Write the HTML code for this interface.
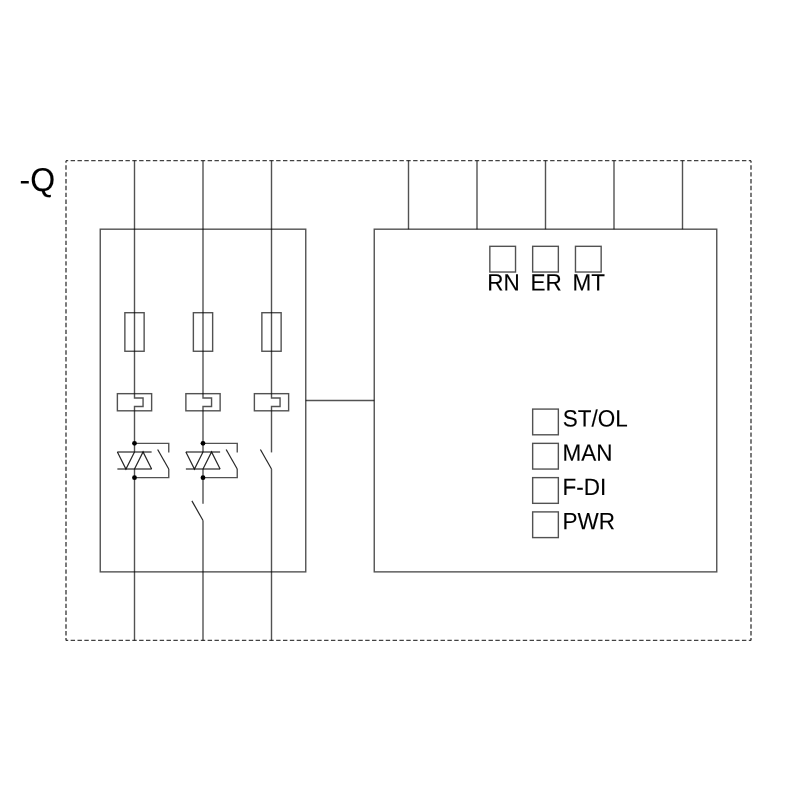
<!DOCTYPE html>
<html lang="en">
<head>
<meta charset="utf-8">
<title>-Q circuit diagram</title>
<style>
html,body{margin:0;padding:0;background:#fff;}
body{width:800px;height:800px;overflow:hidden;}
svg{display:block;will-change:transform;}
svg text{font-family:"Liberation Sans",sans-serif;fill:#000;stroke:#000;stroke-width:0.1px;text-rendering:geometricPrecision;}
</style>
</head>
<body>
<svg width="800" height="800" viewBox="0 0 800 800">
<rect x="0" y="0" width="800" height="800" fill="#ffffff"/>
<g fill="none" stroke="#000" stroke-opacity="0.68" stroke-width="1.4" stroke-linecap="butt" stroke-linejoin="miter">
<!-- dashed device outline -->
<line x1="66.00" y1="160.65" x2="751.00" y2="160.65" stroke-dasharray="4.4 2.45" stroke-dashoffset="2.2" stroke-opacity="0.74"/>
<line x1="66.00" y1="640.40" x2="751.00" y2="640.40" stroke-dasharray="4.4 2.45" stroke-dashoffset="2.2" stroke-opacity="0.74"/>
<line x1="66.00" y1="160.65" x2="66.00" y2="640.40" stroke-dasharray="4.4 2.45" stroke-dashoffset="2.2" stroke-opacity="0.74"/>
<line x1="751.00" y1="160.65" x2="751.00" y2="640.40" stroke-dasharray="4.4 2.45" stroke-dashoffset="2.2" stroke-opacity="0.74"/>
<!-- power unit and control unit frames -->
<rect x="100.25" y="229.19" width="205.50" height="342.68"/>
<rect x="374.25" y="229.19" width="342.50" height="342.68"/>
<line x1="305.75" y1="400.53" x2="374.25" y2="400.53"/>
<!-- control terminals -->
<line x1="408.50" y1="160.65" x2="408.50" y2="229.19"/>
<line x1="477.00" y1="160.65" x2="477.00" y2="229.19"/>
<line x1="545.50" y1="160.65" x2="545.50" y2="229.19"/>
<line x1="614.00" y1="160.65" x2="614.00" y2="229.19"/>
<line x1="682.50" y1="160.65" x2="682.50" y2="229.19"/>
<!-- status LEDs RN / ER / MT -->
<rect x="489.84" y="246.32" width="25.69" height="25.70"/>
<rect x="532.66" y="246.32" width="25.69" height="25.70"/>
<rect x="575.47" y="246.32" width="25.69" height="25.70"/>
<!-- status LEDs ST/OL, MAN, F-DI, PWR -->
<rect x="532.66" y="409.09" width="25.69" height="25.70"/>
<rect x="532.66" y="443.36" width="25.69" height="25.70"/>
<rect x="532.66" y="477.63" width="25.69" height="25.70"/>
<rect x="532.66" y="511.90" width="25.69" height="25.70"/>
<!-- phase 1 -->
<line x1="134.50" y1="160.65" x2="134.50" y2="393.67"/>
<rect x="124.87" y="312.71" width="19.27" height="38.55"/>
<rect x="117.38" y="393.67" width="34.25" height="17.13"/>
<polyline points="134.50,393.67 134.50,397.96 143.06,397.96 143.06,406.52 134.50,406.52 134.50,410.81"/>
<line x1="134.50" y1="410.81" x2="134.50" y2="451.93"/>
<line x1="117.38" y1="451.93" x2="151.62" y2="451.93"/>
<line x1="117.38" y1="469.06" x2="151.62" y2="469.06"/>
<polyline points="117.38,451.93 125.94,469.06 134.50,451.93" stroke-width="1.2" stroke-opacity="0.85"/>
<polyline points="134.50,469.06 143.06,451.93 151.62,469.06" stroke-width="1.2" stroke-opacity="0.85"/>
<polyline points="134.50,443.36 168.75,443.36 168.75,452.43"/>
<line x1="157.65" y1="449.46" x2="168.75" y2="469.06" stroke-width="1.2" stroke-opacity="0.85"/>
<polyline points="168.75,469.06 168.75,477.63 134.50,477.63"/>
<line x1="134.50" y1="469.06" x2="134.50" y2="640.40"/>
<!-- phase 2 -->
<line x1="203.00" y1="160.65" x2="203.00" y2="393.67"/>
<rect x="193.37" y="312.71" width="19.27" height="38.55"/>
<rect x="185.88" y="393.67" width="34.25" height="17.13"/>
<polyline points="203.00,393.67 203.00,397.96 211.56,397.96 211.56,406.52 203.00,406.52 203.00,410.81"/>
<line x1="203.00" y1="410.81" x2="203.00" y2="451.93"/>
<line x1="185.88" y1="451.93" x2="220.12" y2="451.93"/>
<line x1="185.88" y1="469.06" x2="220.12" y2="469.06"/>
<polyline points="185.88,451.93 194.44,469.06 203.00,451.93" stroke-width="1.2" stroke-opacity="0.85"/>
<polyline points="203.00,469.06 211.56,451.93 220.12,469.06" stroke-width="1.2" stroke-opacity="0.85"/>
<polyline points="203.00,443.36 237.25,443.36 237.25,452.43"/>
<line x1="226.15" y1="449.46" x2="237.25" y2="469.06" stroke-width="1.2" stroke-opacity="0.85"/>
<polyline points="237.25,469.06 237.25,477.63 203.00,477.63"/>
<line x1="203.00" y1="469.06" x2="203.00" y2="503.83"/>
<line x1="191.90" y1="500.86" x2="203.00" y2="520.46" stroke-width="1.2" stroke-opacity="0.85"/>
<line x1="203.00" y1="520.46" x2="203.00" y2="640.40"/>
<!-- phase 3 -->
<line x1="271.50" y1="160.65" x2="271.50" y2="393.67"/>
<rect x="261.87" y="312.71" width="19.27" height="38.55"/>
<rect x="254.38" y="393.67" width="34.25" height="17.13"/>
<polyline points="271.50,393.67 271.50,397.96 280.06,397.96 280.06,406.52 271.50,406.52 271.50,410.81"/>
<line x1="271.50" y1="410.81" x2="271.50" y2="452.43"/>
<line x1="260.40" y1="449.46" x2="271.50" y2="469.06" stroke-width="1.2" stroke-opacity="0.85"/>
<line x1="271.50" y1="469.06" x2="271.50" y2="640.40"/>
</g>
<g fill="#000" stroke="none">
<circle cx="134.50" cy="443.36" r="2.4"/>
<circle cx="134.50" cy="477.63" r="2.4"/>
<circle cx="203.00" cy="443.36" r="2.4"/>
<circle cx="203.00" cy="477.63" r="2.4"/>
</g>
<g>
<text transform="translate(19.5 190.9) rotate(0.05) scale(1 1.03)" font-size="32">-Q</text>
<text transform="translate(487.3 290.45) rotate(0.05) scale(1 1.05)" font-size="22.5">RN</text>
<text transform="translate(530.5 290.45) rotate(0.05) scale(1 1.05)" font-size="22.5">ER</text>
<text transform="translate(572.55 290.45) rotate(0.05) scale(1 1.05)" font-size="22.5">MT</text>
<text transform="translate(562.75 426.5) rotate(0.05) scale(1 1.05)" font-size="22.5">ST/OL</text>
<text transform="translate(562.5 460.77) rotate(0.05) scale(1 1.05)" font-size="22.5">MAN</text>
<text transform="translate(562.5 495.04) rotate(0.05) scale(1 1.05)" font-size="22.5">F-DI</text>
<text transform="translate(562.5 529.3) rotate(0.05) scale(1 1.05)" font-size="22.5">PWR</text>
</g>
</svg>
</body>
</html>
